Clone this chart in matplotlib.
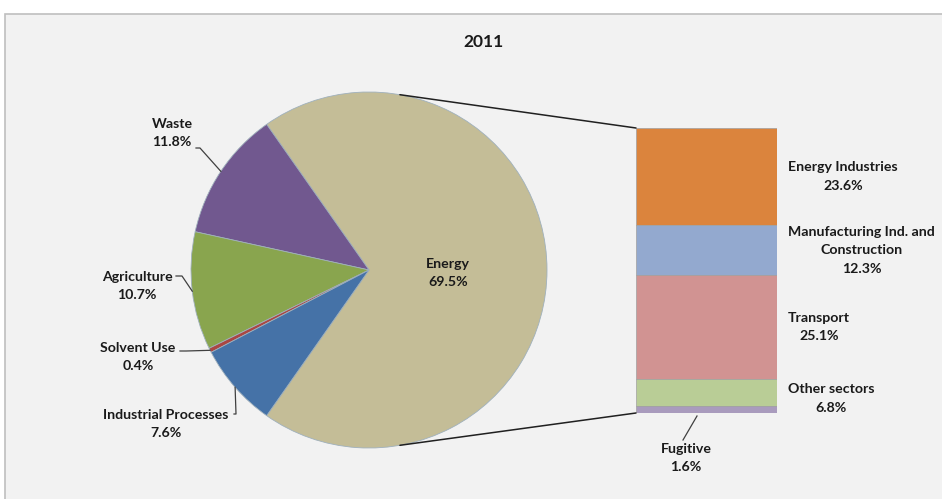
import numpy as np
import matplotlib.pyplot as plt
from matplotlib.patches import Rectangle, ConnectionPatch
from matplotlib.lines import Line2D
from matplotlib.transforms import blended_transform_factory

# 饼图数据（%）
pie_labels = ['Energy', 'Waste', 'Agriculture', 'Solvent Use', 'Industrial Processes']
pie_values = [69.5, 11.8, 10.7, 0.4, 7.6]
pie_colors = ['#c4bd97', '#71588f', '#89a54e', '#aa4643', '#4572a7']

# 能源细分（%），从上到下
bar_labels = ['Energy Industries', 'Manufacturing Ind. and\nConstruction', 'Transport',
              'Other sectors', 'Fugitive']
bar_values = [23.6, 12.3, 25.1, 6.8, 1.6]
bar_colors = ['#db843d', '#93a9cf', '#d19392', '#b9cd96', '#a99bbd']

W, H = 942, 499
plt.rcParams['font.family'] = ['Lato', 'DejaVu Sans']
fig = plt.figure(figsize=(W / 100, H / 100), dpi=100, facecolor='white')


def px(x, y):
    # 像素坐标（左上角为原点）转为 figure 坐标
    return x / W, 1 - y / H


def box(x0, y0, x1, y1):
    return [x0 / W, 1 - y1 / H, (x1 - x0) / W, (y1 - y0) / H]


# 图表区背景和边框
fig.add_artist(Rectangle((5 / W, -0.1), 1.2, 1.1 - 14 / H, transform=fig.transFigure,
                         facecolor='#f2f2f2', edgecolor='#bfbfbf', lw=1.2, zorder=0))

fig.text(*px(484, 42), '2011', ha='center', va='center', fontsize=12.5,
         fontweight='bold', color='#1a1a1a')

txt_kw = dict(fontsize=10.2, fontweight='bold', color='#1a1a1a', linespacing=1.65)
line_kw = dict(color='#404040', lw=0.9)

# 饼图
ax_pie = fig.add_axes(box(191, 92, 547, 448))
start = -pie_values[0] / sum(pie_values) * 180
wedges, _ = ax_pie.pie(pie_values, colors=pie_colors, startangle=start, counterclock=True,
                       radius=1, wedgeprops=dict(edgecolor='#9fb0bc', linewidth=0.6))
ax_pie.set_xlim(-1, 1)
ax_pie.set_ylim(-1, 1)
ax_pie.set_aspect('equal')
ax_pie.axis('off')

# 标签位置（文字中心）和引线折点
label_pos = {
    'Energy': (448, 273),
    'Waste': (172, 133),
    'Agriculture': (137, 286),
    'Solvent Use': (138, 357),
    'Industrial Processes': (166, 424),
}
leader = {
    'Waste': [(196, 148), (200, 148)],
    'Agriculture': [(176, 276), (182, 276)],
    'Solvent Use': [(180, 351), (186, 351)],
    'Industrial Processes': [(234, 414), (236, 414)],
}
for w, name, val in zip(wedges, pie_labels, pie_values):
    fig.text(*px(*label_pos[name]), f'{name}\n{val:.1f}%', ha='center', va='center',
             multialignment='center', **txt_kw)
    if name in leader:
        mid = np.deg2rad((w.theta1 + w.theta2) / 2)
        end = fig.transFigure.inverted().transform(
            ax_pie.transData.transform((np.cos(mid), np.sin(mid))))
        pts = [px(*p) for p in leader[name]] + [tuple(end)]
        xs, ys = zip(*pts)
        fig.add_artist(Line2D(xs, ys, transform=fig.transFigure, **line_kw))

# 堆积柱
ax_bar = fig.add_axes(box(636, 128, 777, 413))
total = sum(bar_values)
bottoms = total - np.cumsum(bar_values)
ax_bar.bar(0, bar_values, bottom=bottoms, width=1, color=bar_colors,
           edgecolor='#a0a0a0', linewidth=0.5)
ax_bar.set_xlim(-0.5, 0.5)
ax_bar.set_ylim(0, total)
ax_bar.axis('off')

trans = blended_transform_factory(ax_bar.transAxes, ax_bar.transData)
nudge = [0, 0, 0, -1.5]
for name, val, b, dy in zip(bar_labels[:-1], bar_values[:-1], bottoms[:-1], nudge):
    ax_bar.text(1.078, b + val / 2 + dy, f'{name}\n{val:.1f}%', transform=trans, ha='left',
                va='center', multialignment='center', clip_on=False, **txt_kw)

# Fugitive 标签在柱下方
fig.text(*px(686, 458), f'{bar_labels[-1]}\n{bar_values[-1]:.1f}%', ha='center',
         va='center', multialignment='center', **txt_kw)
fig.add_artist(Line2D(*zip(px(697, 416), px(683, 440)), transform=fig.transFigure, **line_kw))

# 饼图与柱之间的连接线
a = np.deg2rad(80)
for sgn, yb in [(1, 1), (-1, 0)]:
    con = ConnectionPatch(xyA=(np.cos(a), sgn * np.sin(a)), coordsA=ax_pie.transData,
                          xyB=(0, yb), coordsB=ax_bar.transAxes, color='#202020', lw=1.1)
    fig.add_artist(con)

fig.savefig('out.png', dpi=100, facecolor=fig.get_facecolor())
